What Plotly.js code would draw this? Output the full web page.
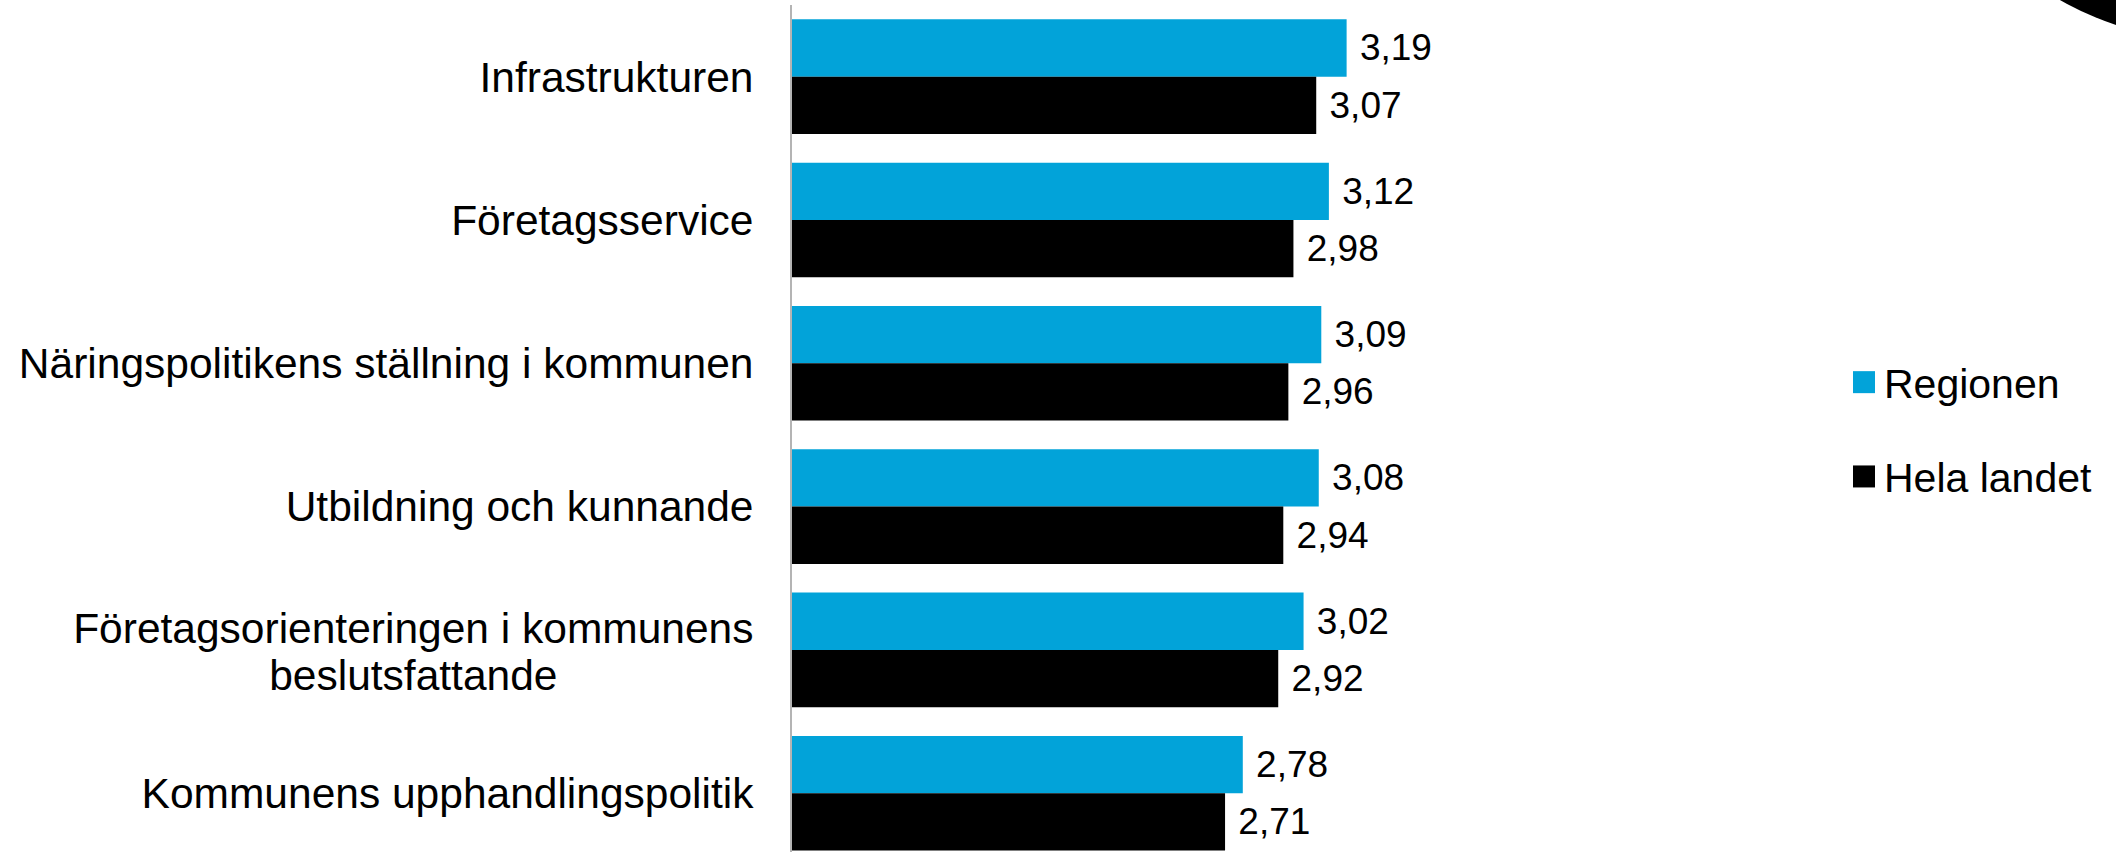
<!DOCTYPE html>
<html>
<head>
<meta charset="utf-8">
<script src="https://cdn.plot.ly/plotly-3.0.1.min.js"></script>
<style>
  html, body { margin: 0; padding: 0; background: #ffffff; }
  #chart { width: 2116px; height: 852px; }
</style>
</head>
<body>
<div id="chart"></div>
<script>
// ---- Data ----
const categories = [
  'Infrastrukturen',
  'Företagsservice',
  'Näringspolitikens ställning i kommunen',
  'Utbildning och kunnande',
  'Företagsorienteringen i kommunens<br>beslutsfattande',
  'Kommunens upphandlingspolitik'
];
const seriesNames = ['Regionen', 'Hela landet'];
const regionen   = [3.19, 3.12, 3.09, 3.08, 3.02, 2.78];
const helaLandet = [3.07, 2.98, 2.96, 2.94, 2.92, 2.71];

// ---- Style ----
const FONT = 'Liberation Sans, Arial, Helvetica, sans-serif';
const BLUE = '#02A3D9';
const BLACK = '#000000';
const TICK_FS = 42.5;

// Plot-area geometry (pixels)
const W = 2116, H = 852;
const plotLeft = 792, plotRight = 1805, plotTop = 5, plotBottom = 852;
const pw = plotRight - plotLeft, ph = plotBottom - plotTop;
const px2paperX = p => (p - plotLeft) / pw;
const px2paperY = p => (plotBottom - p) / ph;

function barTrace(name, values, color, group) {
  return {
    type: 'bar',
    orientation: 'h',
    name: name,
    legendgroup: group,
    y: categories,
    x: values,
    base: 0,
    marker: { color: color, line: { width: 0 } },
    text: values,
    texttemplate: '\u00a0%{x:.2f}',
    textposition: 'outside',
    constraintext: 'none',
    cliponaxis: false,
    textfont: { family: FONT, size: 37, color: '#000000' },
    hoverinfo: 'skip'
  };
}

const data = [
  barTrace(seriesNames[0], regionen, BLUE, 'a'),
  barTrace(seriesNames[1], helaLandet, BLACK, 'b')
];

const layout = {
  width: W,
  height: H,
  paper_bgcolor: '#ffffff',
  plot_bgcolor: '#ffffff',
  separators: ',.',
  font: { family: FONT, size: 41, color: '#000000' },
  margin: { l: plotLeft, r: W - plotRight, t: plotTop, b: H - plotBottom, pad: 0 },
  barmode: 'group',
  bargap: 0.2,
  bargroupgap: 0,
  showlegend: true,
  legend: {
    x: px2paperX(1844),
    y: px2paperY(349),
    xanchor: 'left',
    yanchor: 'top',
    orientation: 'v',
    traceorder: 'grouped',
    tracegroupgap: 38,
    font: { family: FONT, size: 41, color: '#000000' },
    bgcolor: 'rgba(0,0,0,0)',
    borderwidth: 0
  },
  xaxis: {
    range: [1, 5],
    visible: false,
    showgrid: false,
    zeroline: false,
    fixedrange: true
  },
  yaxis: {
    type: 'category',
    range: [5.41, -0.5],
    showline: true,
    linecolor: '#b4b4b4',
    linewidth: 2,
    showgrid: false,
    zeroline: false,
    ticks: 'outside',
    ticklen: 28,
    tickcolor: 'rgba(0,0,0,0)',
    tickfont: { family: FONT, size: TICK_FS, color: '#000000' },
    fixedrange: true
  },
  shapes: [
    {
      type: 'circle',
      xref: 'paper', yref: 'paper',
      x0: px2paperX(1899), x1: px2paperX(2535),
      y0: px2paperY(41.5), y1: px2paperY(-594.5),
      fillcolor: '#000000',
      line: { width: 0 },
      layer: 'above'
    }
  ]
};

function toPx(v) {
  if (!v) return 0;
  return /em$/.test(v) ? parseFloat(v) * TICK_FS : parseFloat(v);
}

const gd = document.getElementById('chart');
Plotly.newPlot(gd, data, layout, { displayModeBar: false, staticPlot: true, responsive: false }).then(function () {
  // Center multi-line category labels and tighten their line spacing (as in the reference)
  gd.querySelectorAll('.ytick text').forEach(function (t) {
    const lines = Array.prototype.slice.call(t.querySelectorAll('tspan.line'));
    if (lines.length > 1) {
      const w = t.getBBox().width;
      const x = parseFloat(t.getAttribute('x')) || 0;
      const nx = x - w / 2;
      t.setAttribute('text-anchor', 'middle');
      t.setAttribute('x', nx);
      lines.forEach(function (l) { l.setAttribute('x', nx); });

      const orig = lines.map(function (l) { return toPx(l.getAttribute('dy')); });
      const step = 47;
      const newPos = lines.map(function (l, i) { return i * step; });
      const mean = a => a.reduce((s, v) => s + v, 0) / a.length;
      const offset = mean(orig) - mean(newPos) + 2;
      lines.forEach(function (l, i) { l.setAttribute('dy', (newPos[i] + offset) + 'px'); });
    }
  });
  // Larger legend squares
  gd.querySelectorAll('.legend .legendpoints path').forEach(function (p) {
    p.setAttribute('d', 'M11,11H-11V-11H11Z');
    p.style.strokeWidth = '0px';
  });
});
</script>
</body>
</html>
